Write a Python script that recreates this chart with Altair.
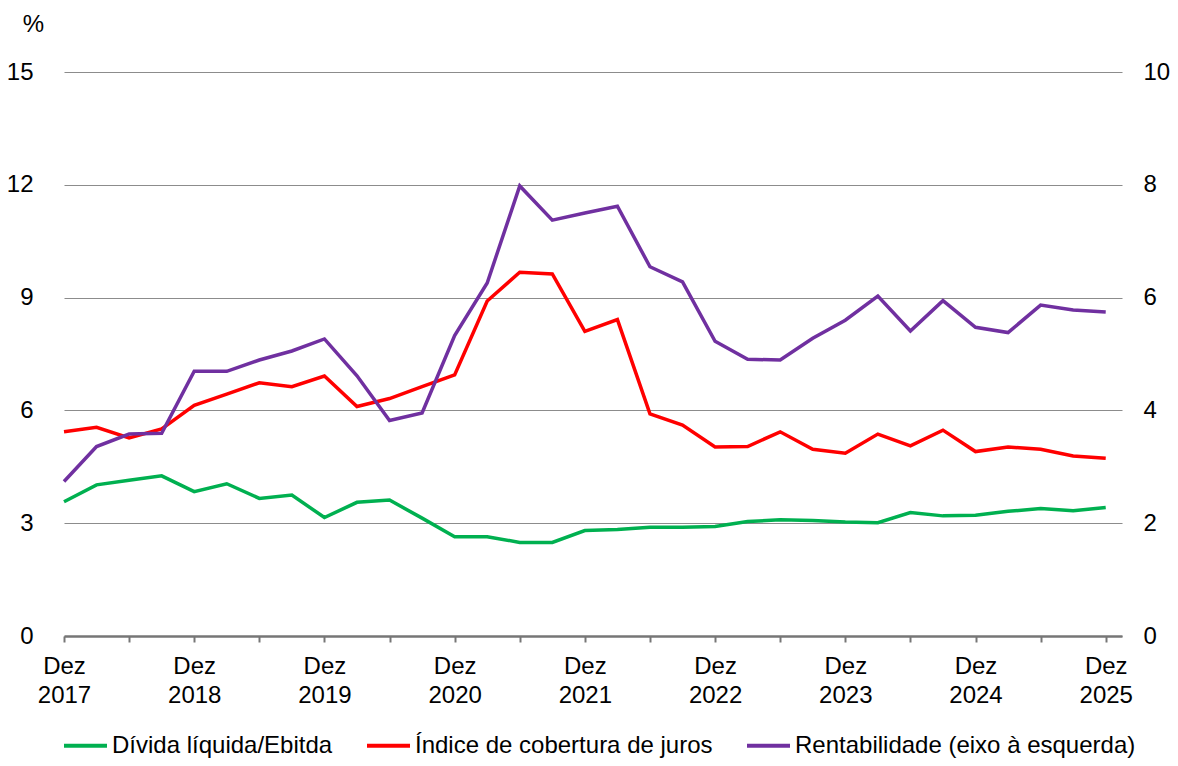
import altair as alt
import pandas as pd

# Quarterly observations, Dez 2017 .. Dez 2025 (33 quarters)
trimestre = list(range(33))

divida_ebitda = [2.38, 2.68, 2.76, 2.84, 2.56, 2.70, 2.44, 2.50, 2.10, 2.37, 2.41,
                 2.09, 1.76, 1.76, 1.66, 1.66, 1.87, 1.89, 1.93, 1.93, 1.94, 2.03,
                 2.06, 2.05, 2.02, 2.01, 2.19, 2.13, 2.14, 2.21, 2.26, 2.22, 2.28]

cobertura_juros = [3.62, 3.70, 3.51, 3.67, 4.09, 4.29, 4.49, 4.42, 4.61, 4.07, 4.21,
                   4.42, 4.63, 5.94, 6.45, 6.42, 5.40, 5.61, 3.94, 3.74, 3.35, 3.36,
                   3.62, 3.31, 3.24, 3.58, 3.37, 3.65, 3.27, 3.35, 3.31, 3.19, 3.15]

rentabilidade = [4.11, 5.04, 5.37, 5.39, 7.04, 7.04, 7.34, 7.58, 7.90, 6.92, 5.73,
                 5.93, 7.99, 9.39, 11.97, 11.06, 11.25, 11.43, 9.82, 9.42, 7.84, 7.36,
                 7.34, 7.92, 8.40, 9.04, 8.11, 8.92, 8.21, 8.07, 8.80, 8.67, 8.62]

series = ['Dívida líquida/Ebitda', 'Índice de cobertura de juros',
          'Rentabilidade (eixo à esquerda)']
cores = ['#00B050', '#FF0000', '#7030A0']

rows = []
for nome, valores, eixo in [(series[0], divida_ebitda, 'dir'),
                            (series[1], cobertura_juros, 'dir'),
                            (series[2], rentabilidade, 'esq')]:
    for q, v in zip(trimestre, valores):
        rows.append({'q': q, 'serie': nome, 'valor': v, 'eixo': eixo})
df = pd.DataFrame(rows)

FONT = 'Liberation Sans'
FS = 24

x_enc = alt.X(
    'q:Q',
    title=None,
    scale=alt.Scale(domain=[0, 32.5], nice=False, zero=False),
    axis=alt.Axis(
        values=list(range(0, 33, 2)),
        labelExpr="datum.value % 4 == 0 ? ['Dez', toString(2017 + datum.value / 4)] : ''",
        labelOverlap=False, labelFlush=False, grid=False,
        tickSize=6, tickWidth=2, tickColor='#767676',
        domainColor='#767676', domainWidth=2.5,
        labelFontSize=FS, labelColor='black', labelPadding=12,
        labelLineHeight=29, labelFont=FONT
    )
)

color_enc = alt.Color(
    'serie:N',
    scale=alt.Scale(domain=series, range=cores),
    legend=alt.Legend(
        title=None, orient='none', legendX=-2, legendY=650,
        direction='horizontal', columns=3, symbolType='stroke',
        symbolStrokeWidth=4, symbolSize=1849, labelFontSize=FS,
        labelFont=FONT, labelColor='black', labelOffset=3, labelLimit=600,
        columnPadding=26, padding=0
    )
)

direita = alt.Chart(df).transform_filter(
    alt.datum.eixo == 'dir'
).mark_line(strokeWidth=3.5).encode(
    x=x_enc,
    y=alt.Y('valor:Q', title=None,
            scale=alt.Scale(domain=[0, 10], nice=False),
            axis=alt.Axis(orient='right', values=[0, 2, 4, 6, 8, 10], grid=False,
                          domain=False, ticks=False, labelPadding=21,
                          labelFontSize=FS, labelColor='black', labelFont=FONT)),
    color=color_enc
)

esquerda = alt.Chart(df).transform_filter(
    alt.datum.eixo == 'esq'
).mark_line(strokeWidth=3.5).encode(
    x=x_enc,
    y=alt.Y('valor:Q', title='%',
            scale=alt.Scale(domain=[0, 15], nice=False),
            axis=alt.Axis(orient='left', values=[0, 3, 6, 9, 12, 15], grid=True,
                          gridColor='#8c8c8c', gridWidth=1.2,
                          domain=False, ticks=False, labelPadding=31,
                          labelFontSize=FS, labelColor='black', labelFont=FONT,
                          titleAngle=0, titleX=-31, titleY=-48,
                          titleAlign='center', titleBaseline='middle',
                          titleFontSize=FS, titleFontWeight='normal',
                          titleFont=FONT, titleColor='black')),
    color=color_enc
)

chart = alt.layer(direita, esquerda).resolve_scale(
    y='independent'
).properties(
    width=1058,
    height=564,
    autosize=alt.AutoSizeParams(type='none'),
    padding={'left': 56, 'top': 64, 'right': 48, 'bottom': 122}
).configure_view(
    strokeWidth=0
)

chart.save("out.html", embed_options={"renderer": "svg", "actions": False})
